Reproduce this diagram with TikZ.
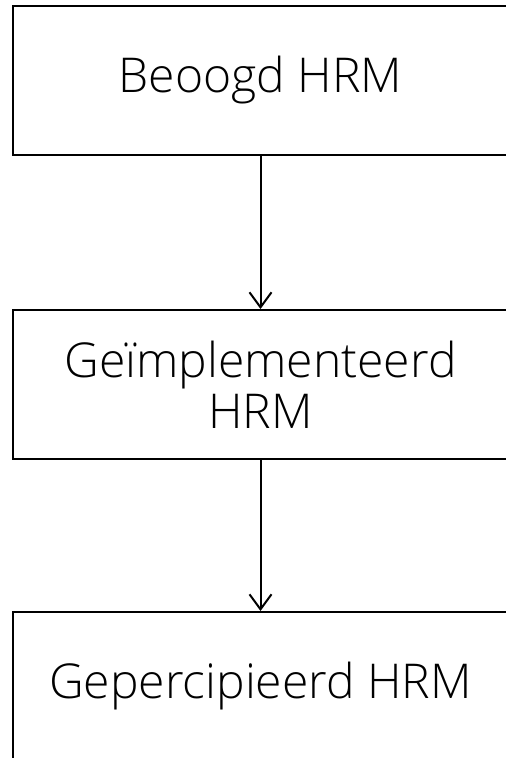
\documentclass[tikz,border=0pt]{standalone}
\usepackage{fontspec}
\setmainfont{Open Sans Light}
\usetikzlibrary{arrows.meta}
\begin{document}
\begin{tikzpicture}[x=1pt,y=-1pt,
  box/.style={draw=black, line width=2pt, rectangle, minimum width=496pt, minimum height=149pt, inner sep=0pt, align=center, font=\fontsize{48}{51}\selectfont},
  flow/.style={-{Straight Barb[length=15pt,width=22pt]}, line width=2pt}]
\useasboundingbox (0,0) rectangle (506,758);
\clip (0,0) rectangle (506,758);
\node[box] (a) at (260.5,80.5) {Beoogd HRM};
\node[box] (b) at (260.5,384.5) {Geïmplementeerd\\HRM};
\node[box] (c) at (260.5,686.5) {Gepercipieerd HRM};
\draw[flow] (a) -- (b);
\draw[flow] (b) -- (c);
\end{tikzpicture}
\end{document}
